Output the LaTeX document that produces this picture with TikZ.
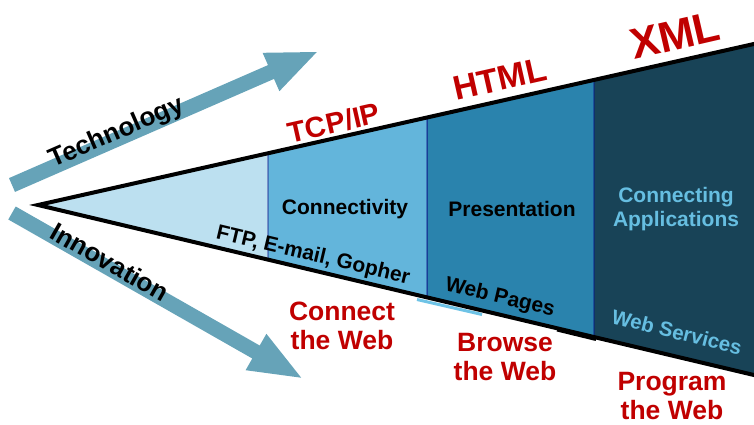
\documentclass[tikz,border=0pt]{standalone}
\usepackage{fontspec}
\setmainfont{Liberation Sans}
\definecolor{secA}{RGB}{188,224,240}
\definecolor{secB}{RGB}{99,181,219}
\definecolor{secC}{RGB}{42,131,173}
\definecolor{secD}{RGB}{24,67,87}
\definecolor{ltxt}{RGB}{102,190,225}
\definecolor{arrowc}{RGB}{102,163,184}
\definecolor{myred}{RGB}{192,0,0}
\definecolor{navy}{RGB}{0,0,128}
\definecolor{accent}{RGB}{110,195,230}
\tikzset{
  fs/.style={font=\bfseries\fontsize{#1}{#1}\selectfont},
  lbl/.style={inner sep=0pt, align=center, fs=#1},
  redlbl/.style={inner sep=0pt, align=center, text=myred, font=\bfseries\fontsize{#1}{29}\selectfont},
  bigarrow/.style={fill=arrowc},
  edgeline/.style={line width=4pt, line join=miter, miter limit=20},
  divider/.style={draw=navy, line width=0.8pt}
}
\begin{document}
\begin{tikzpicture}[x=1pt,y=-1pt]
\useasboundingbox (0,0) rectangle (754,424);
\begin{scope}
\clip (0,0) rectangle (754,424);
% coordinates of funnel
\coordinate (apex) at (38,205);
\coordinate (t1) at (268,153.3);
\coordinate (b1) at (268,259.6);
\coordinate (t2) at (427,117.5);
\coordinate (b2) at (427,297.3);
\coordinate (t3) at (594,80);
\coordinate (b3) at (594,337);
\coordinate (t4) at (756,43.5);
\coordinate (b4) at (756,375.5);
% sections
\fill[secA] (apex) -- (t1) -- (b1) -- cycle;
\fill[secD] (t3) -- (t4) -- (b4) -- (b3) -- cycle;
\filldraw[fill=secC, divider] (t2) -- (t3) -- (b3) -- (b2) -- cycle;
\filldraw[fill=secB, divider] (t1) -- (t2) -- (b2) -- (b1) -- cycle;
% accents on bottom edge
\draw[accent, line width=3pt] (417,299.5) -- (482,314.5);
\draw[black, line width=3pt] (557,330) -- (596,339.5);
% black edges
\draw[edgeline] (t4) -- (apex) -- (b4);
\end{scope}
% big arrows
\fill[bigarrow] (9.0,178.1) -- (268.0,65.1) -- (262.6,52.8) -- (316.8,52.0) -- (279.4,91.2) -- (274.0,78.9) -- (15.0,191.9) -- cycle;
\fill[bigarrow] (15.7,206.5) -- (259.7,345.5) -- (266.4,333.8) -- (301.2,377.7) -- (245.6,370.2) -- (252.3,358.5) -- (8.3,219.5) -- cycle;
% arrow labels
\node[lbl=26, rotate=23.6] (tech) at (117,133) {Technology};
\node[lbl=26, rotate=-29.7] (innov) at (110,262) {Innovation};
% top red labels
\node[lbl=29, text=myred, rotate=12.7] (tcp) at (334,123) {TCP/IP};
\node[lbl=34, text=myred, rotate=12.7] (html) at (500,79) {HTML};
\node[lbl=43, text=myred, rotate=13] (xml) at (675,35) {XML};
% section labels
\node[lbl=21] (conn) at (345,209) {Connectivity};
\node[lbl=21] (pres) at (512,209) {Presentation};
\node[inner sep=0pt, align=center, text=ltxt, font=\bfseries\fontsize{21}{24}\selectfont] (capp) at (676,209) {Connecting\\Applications};
% bottom edge labels
\node[lbl=21, rotate=-13.3] (ftp) at (313,256) {FTP, E-mail, Gopher};
\node[lbl=21, rotate=-13.3] (wpages) at (500,298) {Web Pages};
\node[lbl=20.5, text=ltxt, rotate=-14] (wserv) at (677,332) {Web Services};
% red labels below
\node[redlbl=26.5] (cweb) at (342,326) {Connect\\the Web};
\node[redlbl=26.5] (bweb) at (505,357) {Browse\\the Web};
\node[redlbl=26.5] (pweb) at (672,396) {Program\\the Web};
\end{tikzpicture}
\end{document}
